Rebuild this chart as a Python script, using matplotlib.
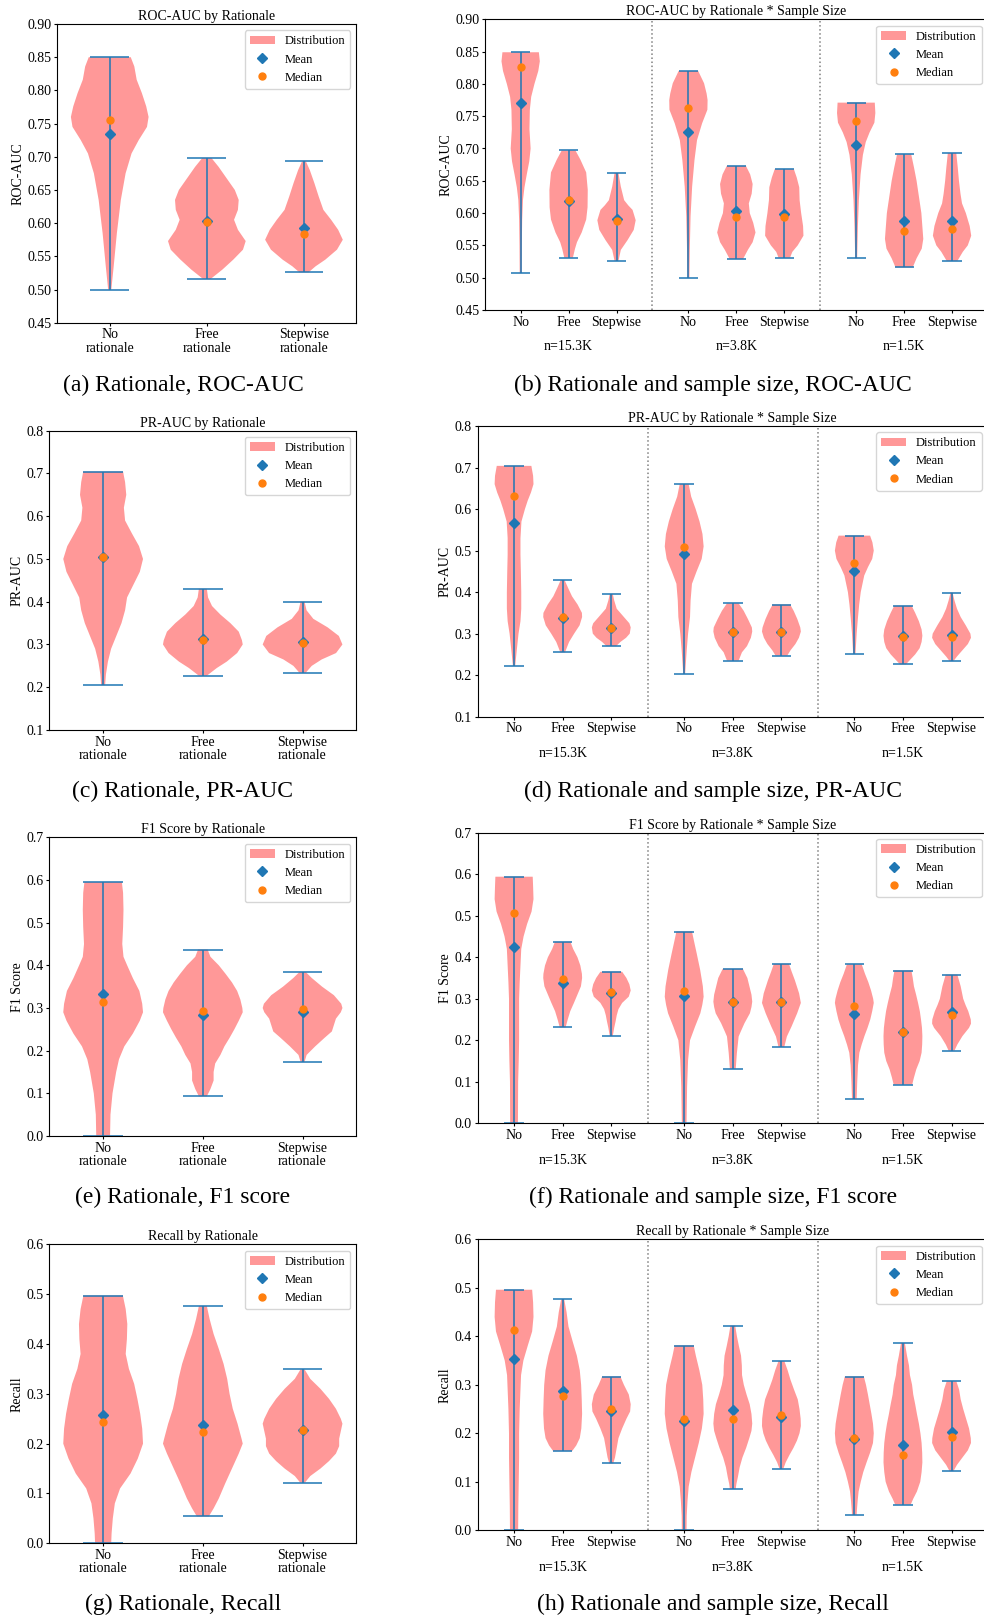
import numpy as np
import matplotlib
matplotlib.use('Agg')
import matplotlib.pyplot as plt
from matplotlib.patches import Patch
from matplotlib.lines import Line2D
from matplotlib.ticker import MultipleLocator, FormatStrFormatter
from matplotlib.transforms import blended_transform_factory

plt.rcParams['font.family'] = ['Liberation Serif', 'DejaVu Serif']

# ---------------- categories / labels ----------------
LEFT_LABELS = ['No\nrationale', 'Free\nrationale', 'Stepwise\nrationale']
LEFT_POS = [1, 2, 3]
RIGHT_LABELS = ['No', 'Free', 'Stepwise', 'No', 'Free', 'Stepwise', 'No', 'Free', 'Stepwise']
RIGHT_POS = [0, 1, 2, 3.5, 4.5, 5.5, 7, 8, 9]
GROUP_LABELS = ['n=15.3K', 'n=3.8K', 'n=1.5K']
GROUP_POS = [1, 4.5, 8]
SEPARATORS = [2.75, 6.25]

# ---------------- ROC-AUC by rationale ----------------
ROC_MIN = [0.500, 0.516, 0.526]
ROC_MAX = [0.850, 0.698, 0.693]
ROC_MEAN = [0.734, 0.603, 0.592]
ROC_MEDIAN = [0.755, 0.601, 0.584]
ROC_SHAPES = [
    [[0.850, 0.53], [0.836, 0.62], [0.816, 0.68], [0.796, 0.81], [0.776, 0.92], [0.760, 0.98], [0.745, 0.94],
     [0.725, 0.73], [0.705, 0.55], [0.675, 0.40], [0.635, 0.28], [0.585, 0.18], [0.535, 0.10], [0.500, 0.04]],
    [[0.698, 0.12], [0.685, 0.30], [0.670, 0.48], [0.650, 0.72], [0.635, 0.82], [0.620, 0.80], [0.605, 0.70],
     [0.590, 0.80], [0.573, 1.00], [0.560, 0.93], [0.545, 0.68], [0.530, 0.40], [0.516, 0.10]],
    [[0.693, 0.05], [0.680, 0.15], [0.660, 0.27], [0.640, 0.38], [0.620, 0.50], [0.605, 0.70], [0.590, 0.88],
     [0.575, 1.00], [0.560, 0.85], [0.545, 0.55], [0.535, 0.30], [0.526, 0.12]],
]

# ---------------- ROC-AUC by rationale * sample size ----------------
ROC_SS_MIN = [0.507, 0.531, 0.526, 0.500, 0.529, 0.531, 0.530, 0.516, 0.526]
ROC_SS_MAX = [0.849, 0.697, 0.662, 0.820, 0.673, 0.668, 0.771, 0.691, 0.693]
ROC_SS_MEAN = [0.771, 0.619, 0.591, 0.725, 0.603, 0.599, 0.706, 0.588, 0.587]
ROC_SS_MEDIAN = [0.826, 0.620, 0.587, 0.762, 0.594, 0.594, 0.742, 0.573, 0.575]
ROC_SS_SHAPES = [
    [[0.849, 0.95], [0.835, 1.00], [0.820, 0.92], [0.800, 0.72], [0.780, 0.55], [0.760, 0.48], [0.730, 0.46],
     [0.700, 0.52], [0.680, 0.45], [0.660, 0.32], [0.640, 0.20], [0.620, 0.12], [0.590, 0.08], [0.550, 0.06],
     [0.507, 0.05]],
    [[0.697, 0.35], [0.683, 0.60], [0.663, 0.90], [0.636, 0.98], [0.609, 0.97], [0.590, 0.90], [0.570, 0.67],
     [0.555, 0.43], [0.545, 0.33], [0.531, 0.22]],
    [[0.662, 0.10], [0.641, 0.22], [0.620, 0.39], [0.612, 0.60], [0.605, 0.82], [0.589, 0.98], [0.574, 0.88],
     [0.558, 0.56], [0.543, 0.22], [0.526, 0.10]],
    [[0.820, 0.50], [0.801, 0.80], [0.785, 0.93], [0.775, 0.98], [0.760, 0.97], [0.739, 0.70], [0.713, 0.44],
     [0.682, 0.31], [0.641, 0.19], [0.595, 0.11], [0.543, 0.07], [0.500, 0.05]],
    [[0.673, 0.50], [0.660, 0.72], [0.645, 0.85], [0.630, 0.80], [0.615, 0.65], [0.600, 0.70], [0.585, 0.88],
     [0.570, 1.00], [0.555, 0.85], [0.543, 0.60], [0.529, 0.35]],
    [[0.668, 0.50], [0.655, 0.65], [0.640, 0.78], [0.620, 0.80], [0.600, 0.88], [0.580, 0.98], [0.565, 1.00],
     [0.550, 0.70], [0.540, 0.42], [0.531, 0.30]],
    [[0.771, 0.97], [0.755, 1.00], [0.740, 0.95], [0.725, 0.70], [0.710, 0.50], [0.690, 0.35], [0.660, 0.23],
     [0.620, 0.14], [0.580, 0.09], [0.530, 0.05]],
    [[0.691, 0.37], [0.670, 0.52], [0.650, 0.65], [0.620, 0.80], [0.600, 0.90], [0.580, 0.95], [0.560, 1.00],
     [0.545, 0.92], [0.530, 0.65], [0.516, 0.45]],
    [[0.693, 0.22], [0.670, 0.30], [0.650, 0.36], [0.630, 0.44], [0.615, 0.52], [0.600, 0.72], [0.580, 0.92],
     [0.565, 1.00], [0.550, 0.82], [0.540, 0.56], [0.526, 0.28]],
]

# ---------------- PR-AUC by rationale ----------------
PR_MIN = [0.205, 0.227, 0.234]
PR_MAX = [0.704, 0.430, 0.400]
PR_MEAN = [0.505, 0.313, 0.306]
PR_MEDIAN = [0.504, 0.310, 0.303]
PR_SHAPES = [
    [[0.704, 0.50], [0.680, 0.55], [0.650, 0.58], [0.620, 0.52], [0.590, 0.55], [0.560, 0.72], [0.530, 0.90],
     [0.500, 1.00], [0.470, 0.92], [0.440, 0.76], [0.410, 0.60], [0.380, 0.55], [0.350, 0.46], [0.320, 0.33],
     [0.290, 0.20], [0.260, 0.12], [0.230, 0.07], [0.205, 0.05]],
    [[0.430, 0.10], [0.410, 0.13], [0.390, 0.23], [0.370, 0.44], [0.350, 0.69], [0.330, 0.90], [0.310, 0.98],
     [0.300, 1.00], [0.280, 0.86], [0.260, 0.60], [0.245, 0.35], [0.227, 0.10]],
    [[0.400, 0.05], [0.380, 0.10], [0.360, 0.27], [0.340, 0.63], [0.320, 0.91], [0.300, 1.00], [0.280, 0.84],
     [0.265, 0.48], [0.250, 0.23], [0.234, 0.08]],
]

# ---------------- PR-AUC by rationale * sample size ----------------
PR_SS_MIN = [0.223, 0.255, 0.270, 0.204, 0.235, 0.247, 0.252, 0.226, 0.234]
PR_SS_MAX = [0.704, 0.429, 0.395, 0.660, 0.373, 0.370, 0.536, 0.367, 0.399]
PR_SS_MEAN = [0.567, 0.337, 0.313, 0.491, 0.305, 0.305, 0.451, 0.295, 0.297]
PR_SS_MEDIAN = [0.631, 0.340, 0.313, 0.509, 0.305, 0.305, 0.469, 0.293, 0.293]
PR_SS_SHAPES = [
    [[0.704, 0.89], [0.680, 0.98], [0.660, 1.00], [0.640, 0.87], [0.620, 0.70], [0.600, 0.56], [0.570, 0.38],
     [0.530, 0.33], [0.490, 0.33], [0.450, 0.35], [0.400, 0.37], [0.360, 0.37], [0.330, 0.33], [0.300, 0.23],
     [0.260, 0.14], [0.223, 0.06]],
    [[0.429, 0.10], [0.410, 0.28], [0.390, 0.48], [0.370, 0.77], [0.350, 0.99], [0.340, 1.00], [0.320, 0.87],
     [0.300, 0.59], [0.280, 0.33], [0.255, 0.12]],
    [[0.395, 0.08], [0.380, 0.15], [0.360, 0.28], [0.340, 0.65], [0.325, 0.93], [0.315, 1.00], [0.300, 0.95],
     [0.290, 0.76], [0.280, 0.47], [0.270, 0.25]],
    [[0.660, 0.23], [0.630, 0.36], [0.600, 0.59], [0.570, 0.79], [0.540, 0.94], [0.510, 1.00], [0.480, 0.90],
     [0.450, 0.64], [0.420, 0.40], [0.380, 0.33], [0.340, 0.30], [0.300, 0.20], [0.260, 0.13], [0.204, 0.05]],
    [[0.373, 0.30], [0.355, 0.56], [0.335, 0.78], [0.315, 0.98], [0.305, 1.00], [0.290, 0.93], [0.270, 0.73],
     [0.255, 0.47], [0.235, 0.30]],
    [[0.370, 0.45], [0.355, 0.63], [0.335, 0.82], [0.315, 0.97], [0.305, 1.00], [0.290, 0.90], [0.275, 0.72],
     [0.260, 0.47], [0.247, 0.30]],
    [[0.536, 0.81], [0.520, 0.93], [0.500, 1.00], [0.480, 0.92], [0.460, 0.70], [0.440, 0.51], [0.420, 0.42],
     [0.400, 0.33], [0.370, 0.25], [0.340, 0.19], [0.300, 0.12], [0.252, 0.06]],
    [[0.367, 0.45], [0.350, 0.63], [0.330, 0.82], [0.310, 0.96], [0.295, 1.00], [0.280, 0.96], [0.265, 0.86],
     [0.250, 0.63], [0.235, 0.33], [0.226, 0.15]],
    [[0.399, 0.05], [0.380, 0.15], [0.360, 0.28], [0.340, 0.47], [0.320, 0.73], [0.300, 0.97], [0.290, 1.00],
     [0.275, 0.84], [0.260, 0.56], [0.245, 0.28], [0.234, 0.10]],
]

# ---------------- F1 score by rationale ----------------
F1_MIN = [0.000, 0.093, 0.174]
F1_MAX = [0.595, 0.437, 0.384]
F1_MEAN = [0.332, 0.284, 0.290]
F1_MEDIAN = [0.315, 0.292, 0.297]
F1_SHAPES = [
    [[0.595, 0.46], [0.570, 0.49], [0.530, 0.50], [0.490, 0.49], [0.450, 0.47], [0.420, 0.50], [0.400, 0.59],
     [0.370, 0.73], [0.340, 0.89], [0.310, 0.96], [0.290, 0.98], [0.270, 0.90], [0.240, 0.73], [0.210, 0.52],
     [0.180, 0.39], [0.150, 0.32], [0.100, 0.23], [0.050, 0.18], [0.000, 0.17]],
    [[0.437, 0.12], [0.420, 0.19], [0.400, 0.40], [0.380, 0.57], [0.360, 0.73], [0.340, 0.86], [0.320, 0.94],
     [0.300, 0.99], [0.290, 1.00], [0.270, 0.90], [0.250, 0.79], [0.230, 0.67], [0.210, 0.54], [0.190, 0.44],
     [0.170, 0.31], [0.150, 0.27], [0.130, 0.27], [0.110, 0.19], [0.093, 0.10]],
    [[0.384, 0.08], [0.370, 0.23], [0.350, 0.48], [0.330, 0.77], [0.310, 0.95], [0.300, 0.98], [0.290, 0.94],
     [0.275, 0.82], [0.260, 0.77], [0.245, 0.72], [0.230, 0.54], [0.210, 0.31], [0.190, 0.10], [0.174, 0.05]],
]

# ---------------- F1 score by rationale * sample size ----------------
F1_SS_MIN = [0.000, 0.231, 0.211, 0.000, 0.131, 0.184, 0.059, 0.093, 0.175]
F1_SS_MAX = [0.594, 0.437, 0.365, 0.462, 0.372, 0.384, 0.383, 0.368, 0.358]
F1_SS_MEAN = [0.424, 0.339, 0.313, 0.306, 0.291, 0.291, 0.263, 0.221, 0.268]
F1_SS_MEDIAN = [0.506, 0.347, 0.317, 0.319, 0.291, 0.291, 0.282, 0.221, 0.260]
F1_SS_SHAPES = [
    [[0.594, 0.96], [0.570, 0.98], [0.540, 1.00], [0.510, 0.90], [0.480, 0.67], [0.450, 0.49], [0.420, 0.37],
     [0.380, 0.33], [0.340, 0.29], [0.300, 0.26], [0.200, 0.26], [0.150, 0.24], [0.100, 0.21], [0.000, 0.20]],
    [[0.437, 0.40], [0.420, 0.54], [0.400, 0.76], [0.380, 0.91], [0.360, 0.99], [0.350, 1.00], [0.330, 0.94],
     [0.310, 0.76], [0.290, 0.58], [0.270, 0.39], [0.250, 0.26], [0.231, 0.15]],
    [[0.365, 0.56], [0.350, 0.78], [0.335, 0.93], [0.320, 1.00], [0.305, 0.90], [0.290, 0.56], [0.275, 0.37],
     [0.260, 0.28], [0.245, 0.22], [0.230, 0.15], [0.211, 0.08]],
    [[0.462, 0.40], [0.440, 0.50], [0.410, 0.64], [0.370, 0.82], [0.330, 0.96], [0.305, 1.00], [0.285, 0.93],
     [0.265, 0.83], [0.233, 0.56], [0.200, 0.30], [0.152, 0.20], [0.088, 0.15], [0.000, 0.12]],
    [[0.372, 0.52], [0.350, 0.75], [0.329, 0.86], [0.310, 0.96], [0.293, 1.00], [0.280, 0.96], [0.265, 0.88],
     [0.241, 0.60], [0.220, 0.40], [0.209, 0.30], [0.169, 0.21], [0.131, 0.15]],
    [[0.384, 0.39], [0.365, 0.53], [0.345, 0.69], [0.313, 0.91], [0.290, 1.00], [0.265, 0.81], [0.233, 0.52],
     [0.209, 0.28], [0.184, 0.15]],
    [[0.383, 0.38], [0.360, 0.55], [0.340, 0.72], [0.320, 0.86], [0.300, 0.97], [0.290, 1.00], [0.270, 0.92],
     [0.250, 0.82], [0.230, 0.68], [0.210, 0.52], [0.190, 0.38], [0.170, 0.26], [0.140, 0.19], [0.100, 0.15],
     [0.059, 0.12]],
    [[0.368, 0.43], [0.350, 0.50], [0.330, 0.56], [0.310, 0.67], [0.290, 0.77], [0.270, 0.86], [0.250, 0.92],
     [0.230, 0.97], [0.210, 0.99], [0.190, 0.98], [0.170, 0.95], [0.150, 0.85], [0.130, 0.68], [0.110, 0.56],
     [0.093, 0.47]],
    [[0.358, 0.30], [0.330, 0.47], [0.300, 0.60], [0.285, 0.72], [0.270, 0.86], [0.250, 0.99], [0.240, 1.00],
     [0.230, 0.90], [0.210, 0.56], [0.190, 0.30], [0.175, 0.15]],
]

# ---------------- Recall by rationale ----------------
REC_MIN = [0.000, 0.054, 0.122]
REC_MAX = [0.497, 0.476, 0.349]
REC_MEAN = [0.257, 0.237, 0.228]
REC_MEDIAN = [0.244, 0.223, 0.228]
REC_SHAPES = [
    [[0.497, 0.49], [0.470, 0.56], [0.440, 0.60], [0.410, 0.59], [0.380, 0.56], [0.350, 0.64], [0.320, 0.77],
     [0.290, 0.85], [0.260, 0.92], [0.230, 0.97], [0.200, 0.99], [0.170, 0.86], [0.140, 0.68], [0.110, 0.42],
     [0.080, 0.29], [0.050, 0.24], [0.020, 0.21], [0.000, 0.20]],
    [[0.476, 0.10], [0.450, 0.17], [0.420, 0.27], [0.390, 0.40], [0.360, 0.52], [0.330, 0.61], [0.300, 0.67],
     [0.270, 0.75], [0.240, 0.87], [0.210, 0.97], [0.200, 1.00], [0.180, 0.90], [0.150, 0.73], [0.120, 0.56],
     [0.090, 0.40], [0.070, 0.27], [0.054, 0.15]],
    [[0.349, 0.05], [0.330, 0.19], [0.310, 0.44], [0.290, 0.65], [0.270, 0.82], [0.250, 0.94], [0.240, 0.98],
     [0.225, 0.94], [0.210, 0.90], [0.195, 0.90], [0.180, 0.82], [0.165, 0.65], [0.150, 0.44], [0.135, 0.19],
     [0.122, 0.06]],
]

# ---------------- Recall by rationale * sample size ----------------
REC_SS_MIN = [0.000, 0.164, 0.138, 0.000, 0.085, 0.127, 0.032, 0.053, 0.122]
REC_SS_MAX = [0.496, 0.476, 0.317, 0.381, 0.422, 0.349, 0.317, 0.386, 0.307]
REC_SS_MEAN = [0.354, 0.287, 0.246, 0.226, 0.248, 0.233, 0.188, 0.176, 0.203]
REC_SS_MEDIAN = [0.412, 0.277, 0.250, 0.230, 0.230, 0.238, 0.191, 0.156, 0.193]
REC_SS_SHAPES = [
    [[0.496, 0.93], [0.470, 0.98], [0.440, 1.00], [0.410, 0.93], [0.380, 0.70], [0.350, 0.48], [0.320, 0.36],
     [0.290, 0.33], [0.250, 0.29], [0.200, 0.26], [0.150, 0.26], [0.100, 0.24], [0.050, 0.22], [0.000, 0.21]],
    [[0.476, 0.08], [0.450, 0.20], [0.420, 0.30], [0.390, 0.51], [0.360, 0.73], [0.330, 0.88], [0.300, 0.95],
     [0.270, 0.98], [0.240, 1.00], [0.210, 0.96], [0.190, 0.88], [0.175, 0.70], [0.164, 0.50]],
    [[0.317, 0.47], [0.300, 0.65], [0.280, 0.90], [0.260, 1.00], [0.245, 0.97], [0.230, 0.78], [0.210, 0.56],
     [0.190, 0.37], [0.170, 0.28], [0.150, 0.19], [0.138, 0.10]],
    [[0.381, 0.49], [0.360, 0.60], [0.330, 0.78], [0.300, 0.93], [0.270, 0.98], [0.240, 1.00], [0.210, 0.91],
     [0.180, 0.75], [0.150, 0.56], [0.120, 0.37], [0.090, 0.23], [0.060, 0.17], [0.030, 0.13], [0.000, 0.12]],
    [[0.422, 0.12], [0.400, 0.21], [0.380, 0.31], [0.360, 0.42], [0.340, 0.46], [0.320, 0.47], [0.300, 0.56],
     [0.280, 0.70], [0.260, 0.86], [0.240, 0.95], [0.220, 0.99], [0.205, 0.95], [0.190, 0.84], [0.170, 0.68],
     [0.150, 0.49], [0.130, 0.35], [0.110, 0.26], [0.095, 0.18], [0.085, 0.15]],
    [[0.349, 0.15], [0.330, 0.32], [0.310, 0.47], [0.290, 0.65], [0.270, 0.84], [0.250, 0.93], [0.230, 0.99],
     [0.215, 1.00], [0.200, 0.93], [0.185, 0.80], [0.170, 0.62], [0.155, 0.41], [0.140, 0.22], [0.127, 0.10]],
    [[0.317, 0.49], [0.300, 0.60], [0.280, 0.70], [0.260, 0.79], [0.240, 0.88], [0.220, 0.96], [0.200, 1.00],
     [0.180, 0.96], [0.160, 0.81], [0.140, 0.63], [0.120, 0.46], [0.100, 0.33], [0.080, 0.22], [0.060, 0.17],
     [0.040, 0.13], [0.032, 0.12]],
    [[0.386, 0.10], [0.360, 0.21], [0.340, 0.31], [0.320, 0.36], [0.300, 0.47], [0.280, 0.53], [0.260, 0.63],
     [0.240, 0.72], [0.220, 0.82], [0.200, 0.90], [0.180, 0.96], [0.160, 0.99], [0.140, 1.00], [0.120, 0.96],
     [0.100, 0.89], [0.080, 0.72], [0.065, 0.53], [0.053, 0.40]],
    [[0.307, 0.25], [0.290, 0.39], [0.270, 0.47], [0.250, 0.60], [0.230, 0.75], [0.210, 0.90], [0.190, 0.99],
     [0.180, 1.00], [0.165, 0.84], [0.150, 0.56], [0.135, 0.28], [0.122, 0.10]],
]

# ---------------- styling ----------------
PINK = '#ff9898'
BLUE = '#1f77b4'
ORANGE = '#ff7f0e'

W, H = 984, 1621
fig = plt.figure(figsize=(W / 100, H / 100), dpi=100)


def add_ax(l, r, t, b):
    return fig.add_axes([l / W, 1 - b / H, (r - l) / W, (b - t) / H])


def draw(ax, pos, mins, maxs, means, medians, shapes):
    stats = []
    for lo, hi, mu, md, shp in zip(mins, maxs, means, medians, shapes):
        stats.append(dict(coords=np.array([p[0] for p in shp]),
                          vals=np.array([p[1] for p in shp]),
                          mean=mu, median=md, min=lo, max=hi))
    parts = ax.violin(stats, positions=pos, widths=0.8, showmeans=False,
                      showextrema=True, showmedians=False)
    for b in parts['bodies']:
        b.set_facecolor(PINK)
        b.set_edgecolor('none')
        b.set_alpha(1.0)
    for k in ('cbars', 'cmins', 'cmaxes'):
        parts[k].set_color(BLUE)
        parts[k].set_alpha(0.85)
        parts[k].set_linewidth(1.3)
    ax.plot(pos, means, ls='none', marker='D', ms=5, color=BLUE, zorder=4)
    ax.plot(pos, medians, ls='none', marker='o', ms=5, color=ORANGE, zorder=5)
    handles = [Patch(facecolor=PINK, edgecolor='none', label='Distribution'),
               Line2D([], [], ls='none', marker='D', ms=5, color=BLUE, label='Mean'),
               Line2D([], [], ls='none', marker='o', ms=5, color=ORANGE, label='Median')]
    ax.legend(handles=handles, loc='upper right', fontsize=9)
    ax.tick_params(labelsize=10, length=2.5, pad=1.5)


def style_y(ax, lo, hi, step, fmt, label):
    ax.set_ylim(lo, hi)
    ax.yaxis.set_major_locator(MultipleLocator(step))
    ax.yaxis.set_major_formatter(FormatStrFormatter(fmt))
    ax.set_ylabel(label, fontsize=10, labelpad=2)


def left_panel(box, mins, maxs, means, medians, shapes, ylim, step, fmt, label, title):
    ax = add_ax(*box)
    draw(ax, LEFT_POS, mins, maxs, means, medians, shapes)
    ax.set_xticks(LEFT_POS)
    ax.set_xticklabels(LEFT_LABELS, linespacing=1.05)
    ax.set_xlim(0.46, 3.54)
    style_y(ax, ylim[0], ylim[1], step, fmt, label)
    ax.set_title(title, fontsize=10, pad=3)
    return ax


def right_panel(box, mins, maxs, means, medians, shapes, ylim, step, fmt, label, title):
    ax = add_ax(*box)
    draw(ax, RIGHT_POS, mins, maxs, means, medians, shapes)
    ax.set_xticks(RIGHT_POS)
    ax.set_xticklabels(RIGHT_LABELS)
    ax.set_xlim(-0.75, 9.75)
    style_y(ax, ylim[0], ylim[1], step, fmt, label)
    for s in SEPARATORS:
        ax.axvline(s, color='0.5', ls=':', lw=1.1, zorder=0)
    trans = blended_transform_factory(ax.transData, fig.transFigure)
    y_fig = 1 - (box[3] + 37.0) / H
    for gp, gl in zip(GROUP_POS, GROUP_LABELS):
        ax.text(gp, y_fig, gl, transform=trans, ha='center', va='center',
                fontsize=10, clip_on=False)
    ax.set_title(title, fontsize=10, pad=3)
    return ax


left_panel((57.3, 356.4, 24, 322.7), ROC_MIN, ROC_MAX, ROC_MEAN, ROC_MEDIAN, ROC_SHAPES,
           (0.45, 0.90), 0.05, '%.2f', 'ROC-AUC', 'ROC-AUC by Rationale')
right_panel((484.7, 988, 19.3, 310), ROC_SS_MIN, ROC_SS_MAX, ROC_SS_MEAN, ROC_SS_MEDIAN, ROC_SS_SHAPES,
            (0.45, 0.90), 0.05, '%.2f', 'ROC-AUC', 'ROC-AUC by Rationale * Sample Size')
left_panel((49.3, 356.4, 430.7, 730), PR_MIN, PR_MAX, PR_MEAN, PR_MEDIAN, PR_SHAPES,
           (0.1, 0.8), 0.1, '%.1f', 'PR-AUC', 'PR-AUC by Rationale')
right_panel((477.6, 988, 426, 716.7), PR_SS_MIN, PR_SS_MAX, PR_SS_MEAN, PR_SS_MEDIAN, PR_SS_SHAPES,
            (0.1, 0.8), 0.1, '%.1f', 'PR-AUC', 'PR-AUC by Rationale * Sample Size')
left_panel((49.3, 356.4, 837.3, 1136), F1_MIN, F1_MAX, F1_MEAN, F1_MEDIAN, F1_SHAPES,
           (0.0, 0.7), 0.1, '%.1f', 'F1 Score', 'F1 Score by Rationale')
right_panel((477.6, 988, 832.7, 1123.3), F1_SS_MIN, F1_SS_MAX, F1_SS_MEAN, F1_SS_MEDIAN, F1_SS_SHAPES,
            (0.0, 0.7), 0.1, '%.1f', 'F1 Score', 'F1 Score by Rationale * Sample Size')
left_panel((49.3, 356.4, 1244.3, 1543.3), REC_MIN, REC_MAX, REC_MEAN, REC_MEDIAN, REC_SHAPES,
           (0.0, 0.6), 0.1, '%.1f', 'Recall', 'Recall by Rationale')
right_panel((477.6, 988, 1239.3, 1530.3), REC_SS_MIN, REC_SS_MAX, REC_SS_MEAN, REC_SS_MEDIAN, REC_SS_SHAPES,
            (0.0, 0.6), 0.1, '%.1f', 'Recall', 'Recall by Rationale * Sample Size')

CAPTIONS_LEFT = ['(a) Rationale, ROC-AUC', '(c) Rationale, PR-AUC',
                 '(e) Rationale, F1 score', '(g) Rationale, Recall']
CAPTIONS_RIGHT = ['(b) Rationale and sample size, ROC-AUC', '(d) Rationale and sample size, PR-AUC',
                  '(f) Rationale and sample size, F1 score', '(h) Rationale and sample size, Recall']
CAPTION_Y = [385, 791, 1197, 1604]
for cl, cr, cy in zip(CAPTIONS_LEFT, CAPTIONS_RIGHT, CAPTION_Y):
    fig.text(183 / W, 1 - cy / H, cl, ha='center', va='center', fontsize=17)
    fig.text(713 / W, 1 - cy / H, cr, ha='center', va='center', fontsize=17)

fig.savefig('out.png', dpi=100)
